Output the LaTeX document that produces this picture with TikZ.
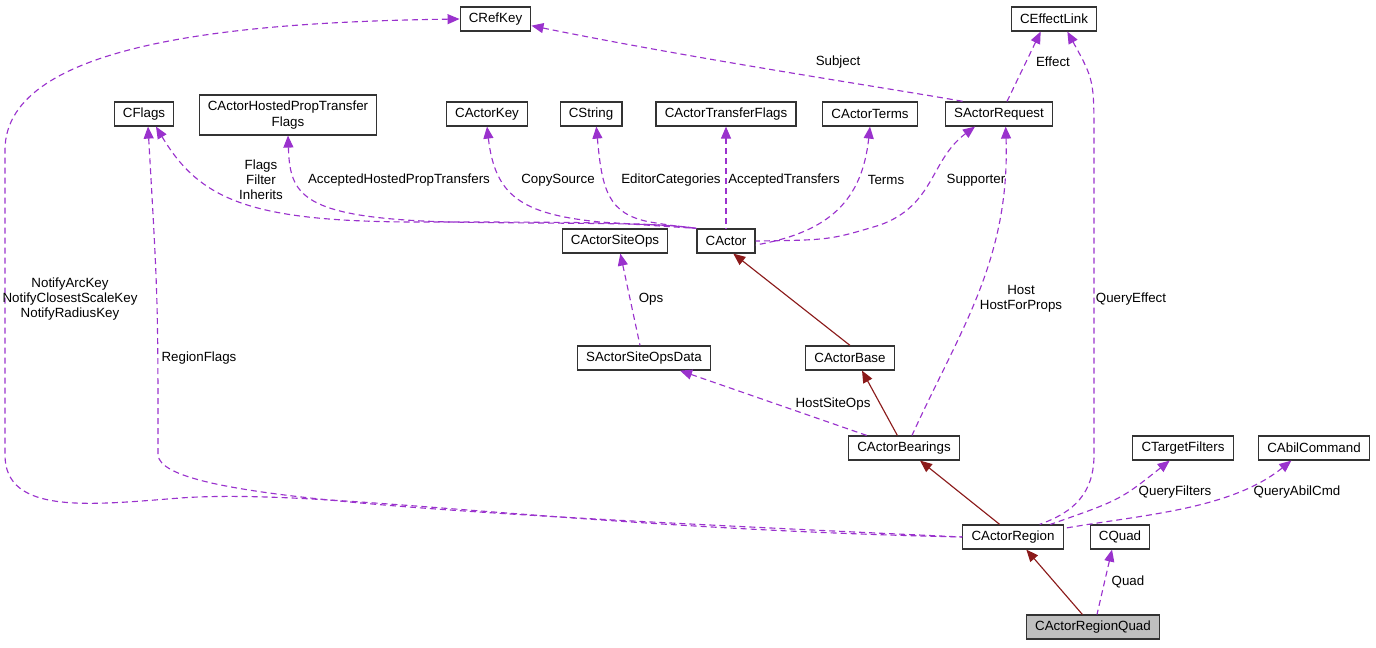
\documentclass[tikz,border=0pt]{standalone}
\usepackage{xcolor}
\usepackage{fontspec}
\setmainfont{Liberation Sans}
\usepackage{tikz}
\usetikzlibrary{arrows.meta}

\definecolor{usecol}{HTML}{9A32CD}
\definecolor{inhcol}{HTML}{8B1A1A}

\begin{document}
\begin{tikzpicture}[x=0.75pt,y=-0.75pt,
  cls/.style={draw=black!80,line width=0.9pt,fill=white,inner xsep=6.5pt,inner ysep=0pt,minimum height=18pt,font=\fontsize{10}{12}\selectfont,align=center},
  lbl/.style={inner sep=0pt,font=\fontsize{10}{11.2}\selectfont,align=center},
  uses/.style={usecol,line width=0.85pt,dash pattern=on 4.5pt off 3pt,{Triangle[length=9pt,width=7.5pt]}-},
  inh/.style={inhcol,line width=0.85pt,{Triangle[length=9pt,width=7.5pt]}-}]
\useasboundingbox (0,0) rectangle (1376,647);
%\draw[help lines] (0,0) grid[step=50] (1376,647);

% classes
\node[cls] (crefkey) at (495.5,19) {CRefKey};
\node[cls] (ceffect) at (1054,19) {CEffectLink};
\node[cls] (cflags) at (144,114) {CFlags};
\node[cls,minimum height=30pt] (chosted) at (288,115) {CActorHostedPropTransfer\\Flags};
\node[cls] (cactorkey) at (487,114) {CActorKey};
\node[cls] (cstring) at (591,114) {CString};
\node[cls] (ctransfer) at (726,114) {CActorTransferFlags};
\node[cls] (cterms) at (870,114) {CActorTerms};
\node[cls] (sreq) at (999,114) {SActorRequest};
\node[cls] (csiteops) at (615,241) {CActorSiteOps};
\node[cls] (cactor) at (726,241) {CActor};
\node[cls] (ssitedata) at (644,358) {SActorSiteOpsData};
\node[cls] (cbase) at (850,358) {CActorBase};
\node[cls] (cbearings) at (904,448) {CActorBearings};
\node[cls] (ctarget) at (1183,448) {CTargetFilters};
\node[cls] (cabil) at (1314,448) {CAbilCommand};
\node[cls] (cregion) at (1013,537) {CActorRegion};
\node[cls] (cquad) at (1120,537) {CQuad};
\node[cls,fill=black!25] (cregquad) at (1093,627) {CActorRegionQuad};

% inheritance
\draw[inh] (cactor.-60) -- (cbase.north);
\draw[inh] ([xshift=9pt]cbase.south) -- ([xshift=-5pt]cbearings.north);
\draw[inh] ([xshift=12pt]cbearings.south) -- ([xshift=-10pt]cregion.north);
\draw[inh] ([xshift=10pt]cregion.south) -- ([xshift=-8pt]cregquad.north);

% members
\draw[uses] (crefkey.west) .. controls (250,22) and (5,40) .. (5,150) -- (5,455)
  .. controls (5,515) and (90,505) .. (180,498) .. controls (320,488) and (560,528) .. (cregion.west);
\draw[uses] ([xshift=3pt]cflags.south) .. controls (158,300) .. (158,455)
  .. controls (162,498) and (420,512) .. (cregion.west);
\draw[uses] ([xshift=9pt]cflags.south) .. controls (200,200) and (250,222) .. (420,222)
  .. controls (560,222) and (650,222) .. (cactor.north west);
\draw[uses] (chosted.south) .. controls (290,195) and (300,218) .. (450,222)
  .. controls (560,224) and (660,222) .. (cactor.north west);
\draw[uses] (cactorkey.south) .. controls (495,195) and (520,214) .. (600,222) .. controls (660,226) .. (cactor.north west);
\draw[uses] ([xshift=4pt]cstring.south) .. controls (602,190) and (608,214) .. (650,222) .. controls (675,226) .. (cactor.north west);
\draw[uses] (ctransfer.south) -- (cactor.north);
\draw[uses] (cterms.south) .. controls (862,200) and (830,232) .. ([yshift=-3pt]cactor.east);
\draw[uses] ([xshift=-18pt]sreq.south) .. controls (930,160) and (935,205) .. (880,225)
  .. controls (830,240) .. (cactor.east);
\draw[uses] ([yshift=-5pt]crefkey.east) .. controls (700,60) and (900,90) .. ([xshift=-27pt]sreq.north);
\draw[uses] ([xshift=-10pt]ceffect.south) -- ([xshift=6pt]sreq.north);
\draw[uses] ([xshift=4pt]csiteops.south) -- ([xshift=-3pt]ssitedata.north);
\draw[uses] ([xshift=27pt]ssitedata.south) -- ([xshift=-28pt]cbearings.north);
\draw[uses] ([xshift=5pt]sreq.south) .. controls (1010,260) and (960,330) .. ([xshift=6pt]cbearings.north);
\draw[uses] ([xshift=10pt]ceffect.south) .. controls (1094,80) .. (1094,140) -- (1094,455)
  .. controls (1094,500) and (1065,515) .. ([xshift=20pt]cregion.north);
\draw[uses] ([xshift=-10pt]ctarget.south) .. controls (1120,500) .. ([xshift=28pt]cregion.north);
\draw[uses] ([xshift=-17pt]cabil.south) .. controls (1230,510) and (1140,515) .. ([yshift=-3pt]cregion.north east);
\draw[uses] ([xshift=-6pt]cquad.south) -- ([xshift=3pt]cregquad.north);

% labels
\node[lbl] (lnotify) at (70,299) {NotifyArcKey\\NotifyClosestScaleKey\\NotifyRadiusKey};
\node[lbl] (lregflags) at (199,358) {RegionFlags};
\node[lbl] (lflags) at (261,180) {Flags\\Filter\\Inherits};
\node[lbl] (lhosted) at (399,180) {AcceptedHostedPropTransfers};
\node[lbl] (lcopy) at (558,180) {CopySource};
\node[lbl] (leditor) at (671,180) {EditorCategories};
\node[lbl] (ltransfers) at (784,180) {AcceptedTransfers};
\node[lbl] (lterms) at (886,180) {Terms};
\node[lbl] (lsupporter) at (976,180) {Supporter};
\node[lbl] (lsubject) at (838,62) {Subject};
\node[lbl] (leffect) at (1053,62) {Effect};
\node[lbl] (lops) at (651,299) {Ops};
\node[lbl] (lhost) at (1021,299) {Host\\HostForProps};
\node[lbl] (lqeffect) at (1131,299) {QueryEffect};
\node[lbl] (lhostsite) at (833,404) {HostSiteOps};
\node[lbl] (lqfilters) at (1175,492) {QueryFilters};
\node[lbl] (lqabil) at (1297,492) {QueryAbilCmd};
\node[lbl] (lquad) at (1128,582) {Quad};
\end{tikzpicture}
\end{document}
